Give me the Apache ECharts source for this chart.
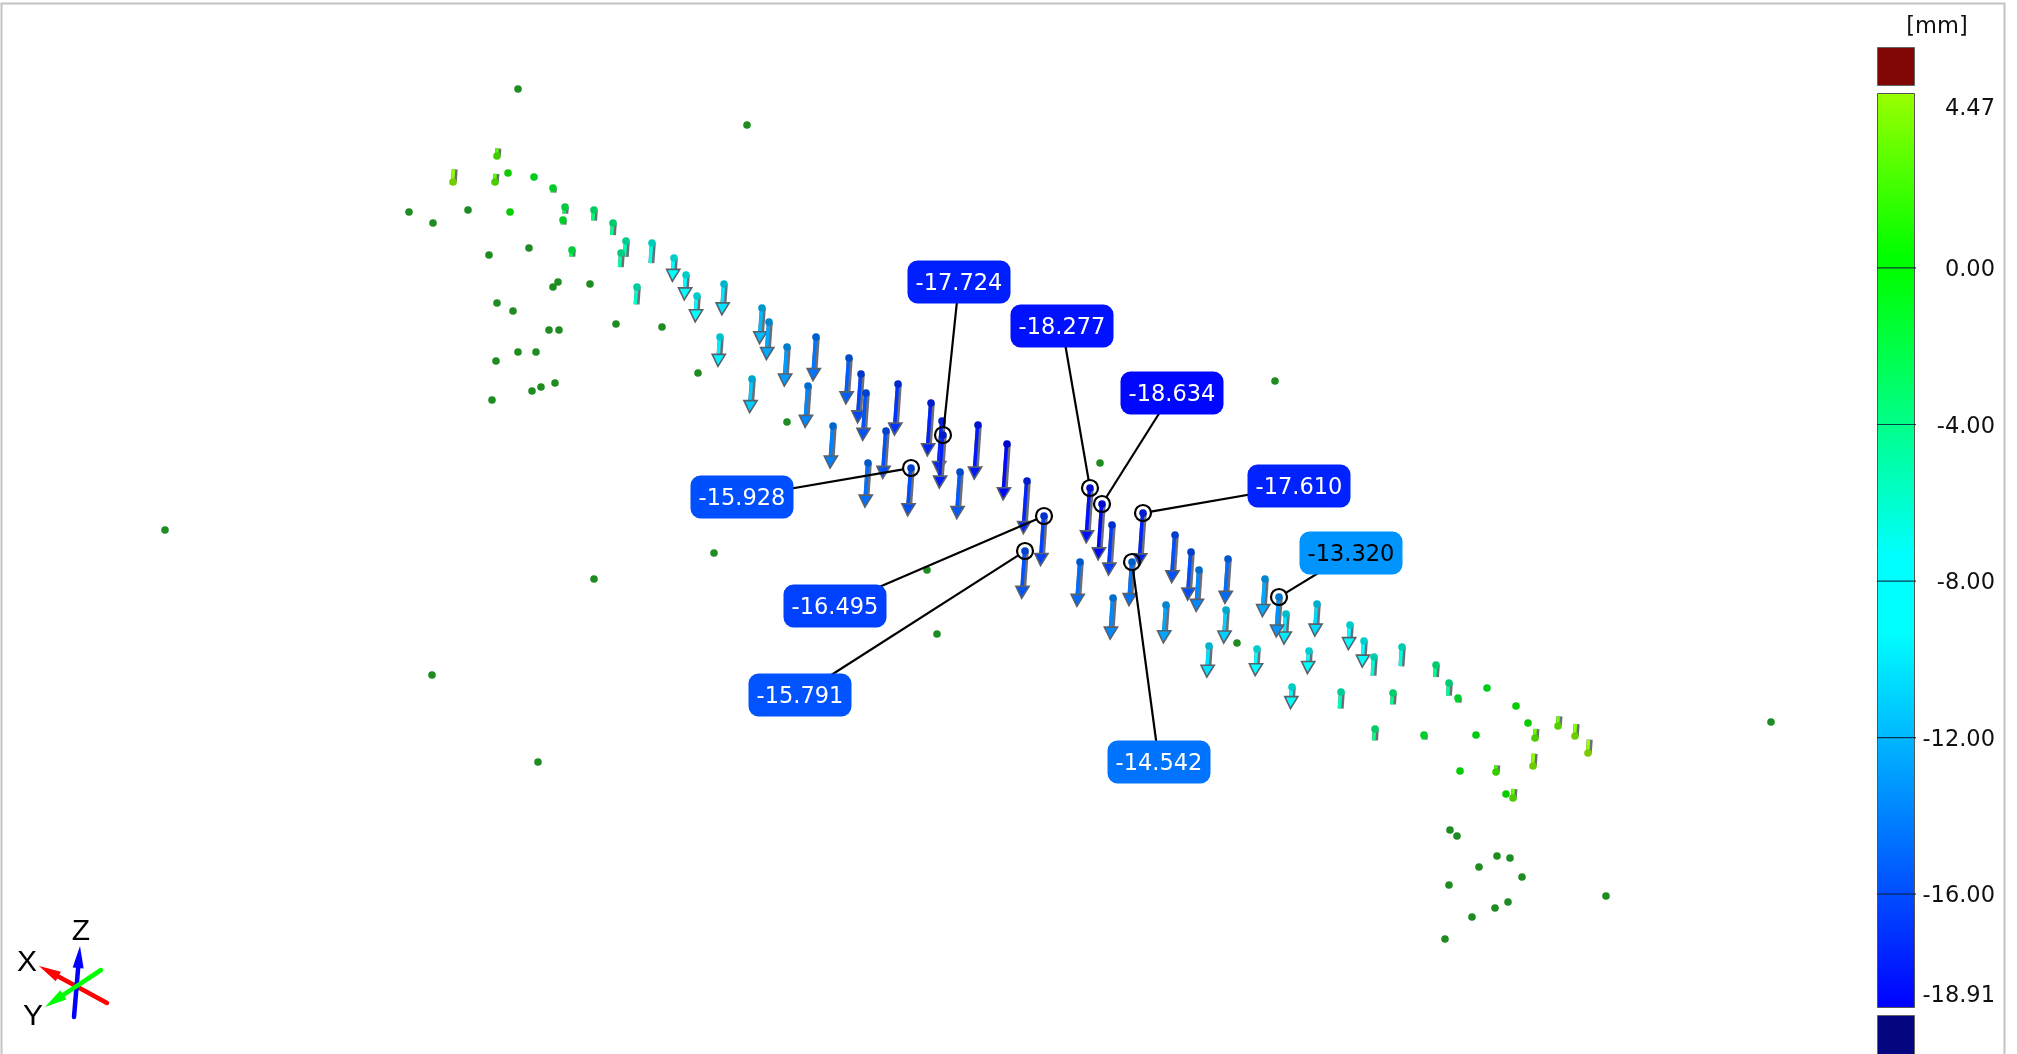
<!DOCTYPE html>
<html><head><meta charset="utf-8">
<style>html,body{margin:0;padding:0;background:#fff}#c{width:2017px;height:1054px}</style>
<script src="https://cdn.jsdelivr.net/npm/echarts@6/dist/echarts.min.js"></script>
</head><body><div id="c"></div>
<script>
// measured points: [x, y, deviation in mm]
const deviationPoints = [
[497,156,2.5],[453,182,4.2],[495,182,2.7],[508,173,0.8],[534,177,-1],[553,188,-1.5],[565,207,-2.2],[563,220,-1.5],
[510,212,0.5],[572,250,-2.2],[594,210,-3.5],[613,223,-4],[626,241,-5.3],[621,253,-4.7],[652,243,-6.7],[637,287,-5.8],
[674,258,-7.8],[686,275,-8.3],[697,296,-8.6],[724,284,-10.3],[720,337,-9.8],[762,308,-11.9],[769,322,-12.5],[787,347,-13],
[752,379,-11.2],[816,337,-14.5],[808,386,-13.8],[849,358,-15.3],[861,374,-16.3],[866,393,-15.8],[898,384,-17],[833,426,-14],
[886,431,-15.8],[931,403,-17.6],[942,421,-17.5],[978,425,-18],[1007,444,-18.6],[868,463,-14.7],[960,472,-15.5],[1027,481,-17.5],
[1112,525,-16.7],[1080,562,-14.8],[1175,535,-15.9],[1191,552,-16],[1199,570,-13.8],[1228,559,-14.8],[1265,579,-12.5],
[1113,598,-13.7],[1166,605,-12.6],[1226,610,-11],[1286,614,-10],[1317,604,-10.7],[1350,625,-8.2],[1364,641,-8.7],
[1209,646,-10.4],[1257,649,-8.9],[1309,651,-7.5],[1292,687,-7.2],[1374,657,-6.2],[1402,647,-6.4],[1436,665,-4],[1449,683,-4.2],
[1341,692,-5.5],[1393,693,-3.8],[1375,729,-3.8],[1424,735,-1.5],[1458,698,-1.5],[1487,688,-1],[1516,706,0.5],[1528,723,0.5],
[1476,735,-0.5],[1460,771,0.3],[1558,726,3.2],[1535,738,3],[1575,736,4],[1588,753,4.47],[1533,766,4.1],[1496,772,2.2],[1513,798,3],[1506,794,0.5]
];
// reference points without a deviation
const referencePoints = [
[518,89],[747,125],[165,530],[1275,381],[1100,463],[594,579],[714,553],[927,570],[937,634],[432,675],[538,762],[1771,722],[1606,896],[1237,643],
[409,212],[433,223],[468,210],[489,255],[529,248],[558,282],[553,287],[590,284],[497,303],[513,311],[549,330],[559,330],[616,324],[662,327],
[518,352],[536,352],[496,361],[555,383],[541,387],[532,391],[492,400],[698,373],[787,422],
[1450,830],[1457,836],[1497,856],[1510,858],[1479,867],[1522,877],[1449,885],[1508,902],[1495,908],[1472,917],[1445,939]
];
// callouts: [point x, point y, value, label text, box centre x, box centre y]
const callouts = [
[943,435,-17.724,'-17.724',959,282],
[1090,488,-18.277,'-18.277',1062,326],
[1102,504,-18.634,'-18.634',1172,393],
[1143,513,-17.610,'-17.610',1299,486],
[1279,597,-13.320,'-13.320',1351,553],
[1132,562,-14.542,'-14.542',1159,762],
[911,468,-15.928,'-15.928',742,497],
[1044,516,-16.495,'-16.495',835,606],
[1025,551,-15.791,'-15.791',800,695]
];
// colour scale
const colorStops = [[-18.91,[0,0,255]],[-9.3,[0,255,255]],[-7.4,[0,255,255]],[0,[0,255,0]],[0.3,[0,255,0]],[4.47,[153,255,0]]];
const scaleTicks = [0,-4,-8,-12,-16];
const scaleLabels = [[4.47,'4.47',14],[0,'0.00',0],[-4,'-4.00',0],[-8,'-8.00',0],[-12,'-12.00',0],[-16,'-16.00',0],[-18.91,'-18.91',-14]];
// orientation triad: [tail x, tail y, tip x, tip y, colour]
const triadAxes = [[107,1003,39,966,'#ff0000'],[74,1017,80,946,'#0000ff'],[101,970,45,1007,'#00ff00']];
const triadLabels = [['X',27,963],['Y',33,1017],['Z',81,932]];

const FONT = '"DejaVu Sans", Verdana, sans-serif';
const SCALE = 3, DIRX = -0.07;

function colorAt(v){
  const s = colorStops;
  if (v <= s[0][0]) return rgb(s[0][1]);
  for (let i=1;i<s.length;i++) if (v <= s[i][0]) {
    const t=(v-s[i-1][0])/(s[i][0]-s[i-1][0]);
    return rgb(s[i-1][1].map((c,k)=>c+(s[i][1][k]-c)*t));
  }
  return rgb(s[s.length-1][1]);
}
function rgb(a){return 'rgb('+a.map(Math.round).join(',')+')';}
function dark(col,f){const m=col.match(/\d+/g).map(Number);return rgb(m.map(c=>c*f));}

function arrowItem(params, api){
  const x=api.value(0), y=api.value(1), v=api.value(2);
  const p=api.coord([x,y]);
  const len=Math.abs(v)*SCALE, sgn=v<0?1:-1;
  const e=[p[0]+DIRX*len*sgn, p[1]+len*sgn];
  const col=colorAt(v);
  const children=[];
  const hasHead = v<=-7;
  const headL = hasHead?12:0, headW=hasHead?6.6:0;
  const neck=[e[0]-DIRX*headL, e[1]-headL];
  const shaftEnd = hasHead?neck:e;
  if (len>3){
    children.push({type:'line',shape:{x1:p[0]+0.8,y1:p[1],x2:shaftEnd[0]+0.8,y2:shaftEnd[1]},style:{stroke:'#6a6e78',lineWidth:6}});
    children.push({type:'line',shape:{x1:p[0]-0.4,y1:p[1],x2:shaftEnd[0]-0.4,y2:shaftEnd[1]},style:{stroke:col,lineWidth:3.4}});
  }
  if (hasHead){
    children.push({type:'polygon',shape:{points:[[neck[0]-headW,neck[1]],[neck[0]+headW,neck[1]],e]},style:{fill:col,stroke:'#5a606a',lineWidth:1.6}});
  }
  children.push({type:'circle',shape:{cx:p[0],cy:p[1],r:3.8},style:{fill:dark(col,0.8)}});
  return {type:'group',children};
}

function triadItem(params, api){
  const t=[api.value(0),api.value(1)], h=[api.value(2),api.value(3)];
  const a=api.coord(t), b=api.coord(h), col=triadAxes[params.dataIndex][4];
  const dx=b[0]-a[0], dy=b[1]-a[1], L=Math.hypot(dx,dy), ux=dx/L, uy=dy/L;
  const hl=22, hw=5.5, nx=b[0]-ux*hl, ny=b[1]-uy*hl;
  return {type:'group',children:[
    {type:'line',shape:{x1:a[0],y1:a[1],x2:nx,y2:ny},style:{stroke:col,lineWidth:4.5,lineCap:'round'}},
    {type:'polygon',shape:{points:[[nx-uy*hw,ny+ux*hw],[nx+uy*hw,ny-ux*hw],b]},style:{fill:col}}
  ]};
}

const barGradient = [];
colorStops.forEach(s=>barGradient.push({offset:(4.47-s[0])/(4.47+18.91),color:rgb(s[1])}));
barGradient.sort((a,b)=>a.offset-b.offset);

const chart = echarts.init(document.getElementById('c'),null,{renderer:'canvas'});
chart.setOption({
  animation:false,
  backgroundColor:'#fff',
  grid:[
    {left:0,top:0,width:2017,height:1054},
    {left:1877,top:93,width:38,height:915}
  ],
  xAxis:[
    {type:'value',min:0,max:2017,show:false,gridIndex:0},
    {type:'value',min:0,max:1,show:false,gridIndex:1}
  ],
  yAxis:[
    {type:'value',min:0,max:1054,inverse:true,show:false,gridIndex:0},
    {type:'value',min:-18.91,max:4.47,show:false,gridIndex:1}
  ],
  graphic:[
    {type:'rect',silent:true,z:0,shape:{x:1.5,y:3.5,width:2003,height:1060},style:{fill:'none',stroke:'#c4c4c4',lineWidth:2}},
    {type:'rect',silent:true,z:5,shape:{x:1877.5,y:47.5,width:37,height:38},style:{fill:'#800505',stroke:'#666',lineWidth:1}},
    {type:'rect',silent:true,z:5,shape:{x:1877.5,y:1015.5,width:37,height:42},style:{fill:'#050580',stroke:'#666',lineWidth:1}},
    {type:'text',silent:true,z:5,style:{x:1937,y:27,text:'[mm]',font:'22.5px '+FONT,fill:'#111',textAlign:'center',textVerticalAlign:'middle'}}
  ],
  series:[
    {type:'custom',coordinateSystem:'cartesian2d',xAxisIndex:0,yAxisIndex:0,silent:true,z:2,clip:false,
     data:referencePoints,
     renderItem:(p,api)=>{const c=api.coord([api.value(0),api.value(1)]);
       return {type:'circle',shape:{cx:c[0],cy:c[1],r:3.8},style:{fill:'#1f8c22'}};}},
    {type:'custom',coordinateSystem:'cartesian2d',xAxisIndex:0,yAxisIndex:0,silent:true,z:3,clip:false,
     data:deviationPoints.concat(callouts.map(c=>[c[0],c[1],c[2]])),
     renderItem:arrowItem},
    {type:'custom',coordinateSystem:'cartesian2d',xAxisIndex:0,yAxisIndex:0,silent:true,z:4,clip:false,
     data:callouts.map(c=>[c[0],c[1],c[4],c[5]]),
     renderItem:(p,api)=>{
       const a=api.coord([api.value(0),api.value(1)]), b=api.coord([api.value(2),api.value(3)]);
       const L=Math.hypot(b[0]-a[0],b[1]-a[1]), r=8;
       return {type:'group',children:[
         {type:'line',shape:{x1:a[0]+(b[0]-a[0])/L*r,y1:a[1]+(b[1]-a[1])/L*r,x2:b[0],y2:b[1]},style:{stroke:'#000',lineWidth:2.2}},
         {type:'circle',shape:{cx:a[0],cy:a[1],r:r},style:{fill:'none',stroke:'#000',lineWidth:2.2}}
       ]};
     }},
    {type:'custom',coordinateSystem:'cartesian2d',xAxisIndex:0,yAxisIndex:0,silent:true,z:5,clip:false,
     data:callouts.map(c=>[c[4],c[5],c[2]]),
     renderItem:(p,api)=>{
       const c=api.coord([api.value(0),api.value(1)]), v=api.value(2), w=103, h=43;
       return {type:'group',children:[
         {type:'rect',shape:{x:c[0]-w/2,y:c[1]-h/2,width:w,height:h,r:10},style:{fill:colorAt(v)}},
         {type:'text',style:{x:c[0],y:c[1]+2.5,text:callouts[p.dataIndex][3],font:'22.5px '+FONT,fill:v>-14?'#000':'#fff',textAlign:'center',textVerticalAlign:'middle'}}
       ]};
     }},
    {type:'custom',coordinateSystem:'cartesian2d',xAxisIndex:0,yAxisIndex:0,silent:true,z:6,clip:false,
     data:triadAxes.map(a=>a.slice(0,4)),renderItem:triadItem},
    {type:'custom',coordinateSystem:'cartesian2d',xAxisIndex:0,yAxisIndex:0,silent:true,z:6,clip:false,
     data:triadLabels.map(l=>[l[1],l[2]]),
     renderItem:(p,api)=>{const c=api.coord([api.value(0),api.value(1)]);
       return {type:'text',style:{x:c[0],y:c[1],text:triadLabels[p.dataIndex][0],font:'30px "Liberation Sans", Arial, sans-serif',fill:'#000',textAlign:'center',textVerticalAlign:'middle'}};}},
    // colour bar
    {type:'custom',coordinateSystem:'cartesian2d',xAxisIndex:1,yAxisIndex:1,silent:true,z:5,clip:false,
     data:[[0,4.47,1,-18.91]],
     renderItem:(p,api)=>{
       const a=api.coord([api.value(0),api.value(1)]), b=api.coord([api.value(2),api.value(3)]);
       return {type:'rect',shape:{x:a[0]+0.5,y:a[1]+0.5,width:b[0]-a[0]-1,height:b[1]-a[1]-1},
         style:{fill:new echarts.graphic.LinearGradient(0,0,0,1,barGradient),stroke:'#555',lineWidth:1}};
     }},
    {type:'custom',coordinateSystem:'cartesian2d',xAxisIndex:1,yAxisIndex:1,silent:true,z:6,clip:false,
     data:scaleTicks.map(v=>[0,v,1]),
     renderItem:(p,api)=>{
       const a=api.coord([api.value(0),api.value(1)]), b=api.coord([api.value(2),api.value(1)]);
       return {type:'line',shape:{x1:a[0],y1:a[1],x2:b[0]+1,y2:b[1]},style:{stroke:'rgba(10,30,60,0.85)',lineWidth:1.2}};
     }},
    {type:'custom',coordinateSystem:'cartesian2d',xAxisIndex:1,yAxisIndex:1,silent:true,z:6,clip:false,
     data:scaleLabels.map(l=>[1,l[0]]),
     renderItem:(p,api)=>{
       const c=api.coord([api.value(0),api.value(1)]), l=scaleLabels[p.dataIndex];
       return {type:'text',style:{x:c[0]+80,y:c[1]+l[2]+2.5,text:l[1],font:'22.5px '+FONT,fill:'#111',textAlign:'right',textVerticalAlign:'middle'}};
     }}
  ]
});
</script></body></html>
